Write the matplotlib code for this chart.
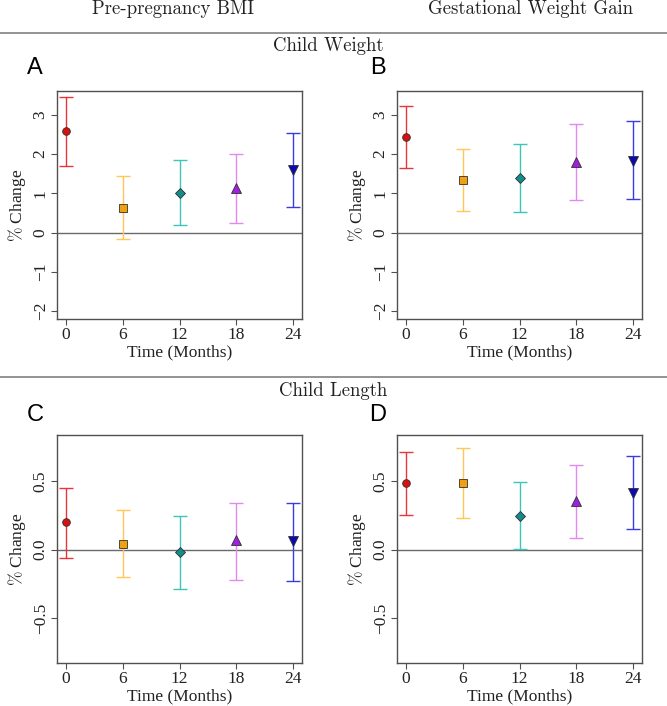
import matplotlib
matplotlib.use("Agg")
import matplotlib.pyplot as plt
from matplotlib.ticker import FixedLocator, FixedFormatter

plt.rcParams['mathtext.fontset'] = 'cm'

# ---------------- data ----------------
months = [0, 6, 12, 18, 24]
month_labels = ["0", "6", "12", "18", "24"]

A_est = [2.57, 0.63, 1.01, 1.12, 1.58]
A_lo = [1.68, -0.16, 0.18, 0.23, 0.65]
A_hi = [3.45, 1.43, 1.85, 2.00, 2.53]

B_est = [2.44, 1.34, 1.38, 1.79, 1.83]
B_lo = [1.65, 0.56, 0.53, 0.82, 0.84]
B_hi = [3.23, 2.12, 2.26, 2.75, 2.84]

C_est = [0.20, 0.04, -0.02, 0.07, 0.06]
C_lo = [-0.06, -0.20, -0.29, -0.22, -0.23]
C_hi = [0.45, 0.29, 0.25, 0.345, 0.344]

D_est = [0.49, 0.49, 0.245, 0.355, 0.417]
D_lo = [0.257, 0.235, 0.003, 0.085, 0.152]
D_hi = [0.717, 0.744, 0.497, 0.622, 0.686]

weight_ticks = [-2, -1, 0, 1, 2, 3]
weight_tick_labels = ["\u22122", "\u22121", "0", "1", "2", "3"]
length_ticks = [-0.5, 0.0, 0.5]
length_tick_labels = ["\u22120.5", "0.0", "0.5"]

col_titles = ["Pre-pregnancy BMI", "Gestational Weight Gain"]
row_titles = ["Child Weight", "Child Length"]
panel_letters = ["A", "B", "C", "D"]

bar_colors = ["#E8343A", "#FFC65A", "#3EC4BA", "#E288F2", "#3A3AE4"]
fill_colors = ["#D81010", "#F0A010", "#138C8C", "#A020E0", "#0A0AB0"]
markers = ["o", "s", "D", "^", "v"]
marker_sizes = [5.5, 5.5, 5.0, 6.5, 6.5]

# ---------------- figure ----------------
W, H = 667, 706
fig = plt.figure(figsize=(W / 100, H / 100), dpi=100)


def px_axes(left, top, right, bottom):
    return fig.add_axes([left / W, 1 - bottom / H, (right - left) / W, (bottom - top) / H])


serif = "Liberation Serif"


def draw_panel(ax, est, lo, hi, ylim, ticks, tlabels):
    for i, m in enumerate(months):
        ax.errorbar([m], [est[i]], yerr=[[est[i] - lo[i]], [hi[i] - est[i]]],
                    fmt="none", ecolor=bar_colors[i], elinewidth=1.0,
                    capsize=4.8, capthick=1.0, zorder=2)
        ax.plot([m], [est[i]], marker=markers[i], markersize=marker_sizes[i],
                markerfacecolor=fill_colors[i], markeredgecolor="#303030",
                markeredgewidth=0.6, linestyle="none", zorder=3)
    ax.axhline(0, color="#6a6a6a", lw=1.0, zorder=1)
    ax.set_xlim(-0.96, 24.96)
    ax.set_ylim(*ylim)
    ax.xaxis.set_major_locator(FixedLocator(months))
    ax.xaxis.set_major_formatter(FixedFormatter(month_labels))
    ax.yaxis.set_major_locator(FixedLocator(ticks))
    ax.yaxis.set_major_formatter(FixedFormatter(tlabels))
    for s in ax.spines.values():
        s.set_color("#505050")
        s.set_linewidth(1.0)
    ax.tick_params(direction="out", length=4.5, width=0.8, color="#505050",
                   labelsize=12.5, pad=1.5)
    for lab in ax.get_xticklabels() + ax.get_yticklabels():
        lab.set_fontfamily(serif)
        lab.set_color("#222222")
    for lab in ax.get_yticklabels():
        lab.set_rotation(90)
        lab.set_va("center")
        lab.set_ha("right")
    ax.set_xlabel("Time (Months)", fontfamily=serif, fontsize=12.5, labelpad=1, color="#222222")
    ax.set_ylabel(r"$\%$ Change", fontfamily=serif, fontsize=12.5, labelpad=3, color="#222222")


panels = [
    (px_axes(57, 91, 302, 319), A_est, A_lo, A_hi, (-2.2, 3.6), weight_ticks, weight_tick_labels),
    (px_axes(397, 91, 642, 319), B_est, B_lo, B_hi, (-2.2, 3.6), weight_ticks, weight_tick_labels),
    (px_axes(57, 435, 302, 663), C_est, C_lo, C_hi, (-0.83, 0.84), length_ticks, length_tick_labels),
    (px_axes(397, 435, 642, 663), D_est, D_lo, D_hi, (-0.83, 0.84), length_ticks, length_tick_labels),
]
for ax, est, lo, hi, yl, tk, tl in panels:
    draw_panel(ax, est, lo, hi, yl, tk, tl)

# headers
fig.text(173 / W, 1 - 9 / H, col_titles[0], family="cmr10", fontsize=13.5,
         ha="center", va="center", color="#222222")
fig.text(530 / W, 1 - 9 / H, col_titles[1], family="cmr10", fontsize=13.5,
         ha="center", va="center", color="#222222")

for ypx in (33, 377):
    fig.add_artist(plt.Line2D([0, 1], [1 - ypx / H, 1 - ypx / H], color="#8a8a8a",
                              lw=1.3, transform=fig.transFigure))

fig.text(328 / W, 1 - 46 / H, row_titles[0], family="cmr10", fontsize=13.5,
         ha="center", va="center", color="#222222")
fig.text(333 / W, 1 - 391 / H, row_titles[1], family="cmr10", fontsize=13.5,
         ha="center", va="center", color="#222222")

letter_pos = [(35, 68), (378, 68), (35, 415), (378, 415)]
for letter, (x, y) in zip(panel_letters, letter_pos):
    fig.text(x / W, 1 - y / H, letter, family="Liberation Sans", fontsize=17,
             ha="center", va="center", color="black")

fig.savefig("out.png", dpi=100)
